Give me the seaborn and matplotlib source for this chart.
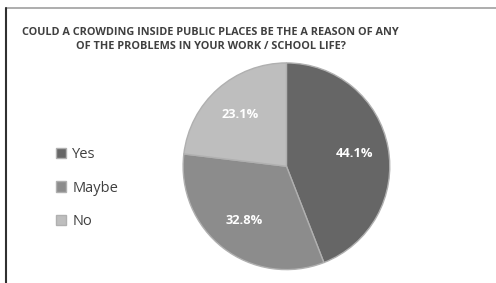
import matplotlib
matplotlib.use('Agg')
import matplotlib.pyplot as plt
import seaborn as sns
from matplotlib.lines import Line2D

labels = ['Yes', 'Maybe', 'No']
shares = [44.1, 32.8, 23.1]
colors = ['#666666', '#8c8c8c', '#bebebe']
title = 'COULD A CROWDING INSIDE PUBLIC PLACES BE THE A REASON OF ANY\nOF THE PROBLEMS IN YOUR WORK / SCHOOL LIFE?'

sns.set_theme(style='white')
plt.rcParams['font.family'] = ['Open Sans', 'DejaVu Sans']

fig = plt.figure(figsize=(4.96, 2.83), dpi=100)
ax = fig.add_axes([0.365, 0.04, 0.425, 0.745])

wedges, texts, autotexts = ax.pie(
    shares, colors=colors, startangle=90, counterclock=False,
    autopct='%.1f%%', pctdistance=0.67,
    wedgeprops=dict(edgecolor='#b0b0b0', linewidth=1.0),
    textprops=dict(color='white', fontsize=9.3, fontweight='bold'))
ax.set_xlim(-1.02, 1.02)
ax.set_ylim(-1.02, 1.02)
ax.set_aspect('equal')

fig.legend(wedges, labels, loc='center left', bbox_to_anchor=(0.087, 0.335),
           frameon=False, fontsize=10.5, labelcolor='#404040',
           handlelength=0.7, handleheight=0.7, handletextpad=0.4,
           labelspacing=1.25)

fig.text(0.425, 0.86, title, ha='center', va='center', fontsize=7.8,
         fontweight='bold', color='#404040', linespacing=1.3)

# frame lines of the original screenshot
fig.add_artist(Line2D([0.012, 1.0], [0.972, 0.972], transform=fig.transFigure,
                      color='#a0a0a0', linewidth=1.2))
fig.add_artist(Line2D([0.012, 0.012], [0.0, 0.972], transform=fig.transFigure,
                      color='#303030', linewidth=1.5))

fig.savefig('out.png', dpi=100)
